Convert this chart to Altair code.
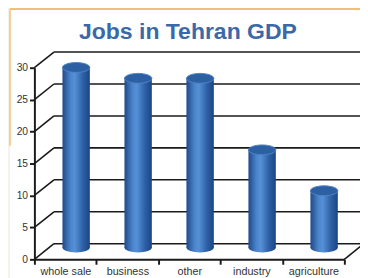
import altair as alt
import pandas as pd

categories = ["whole sale", "business", "other", "industry", "agriculture"]
values = [28.2, 26.5, 26.5, 15.3, 8.9]
y_ticks = [0, 5, 10, 15, 20, 25, 30]
title_text = "Jobs in Tehran GDP"

df = pd.DataFrame({"category": categories, "value": values})
grid_df = pd.DataFrame({"v": y_ticks})
one = pd.DataFrame({"k": [0]})

W, H = 317, 196
DX, DY = 20, -16      # depth offset of back wall
BX, BY = 11, -12      # bar depth offset

xenc = alt.X("category:N", sort=categories, title=None,
             scale=alt.Scale(paddingInner=0, paddingOuter=0),
             axis=alt.Axis(tickBand="extent", labelAngle=0, labelFontSize=11,
                           labelFont="Liberation Sans", labelColor="#333",
                           domainColor="#1a1a1a", domainWidth=2, tickColor="#1a1a1a",
                           tickWidth=2, tickSize=5, labelPadding=1, grid=False, zindex=2))
yscale = alt.Scale(domain=[0, 30], nice=False)
yaxis = alt.Axis(values=y_ticks, grid=False, domainColor="#1a1a1a",
                 domainWidth=2, tickColor="#1a1a1a", tickWidth=2, tickSize=5,
                 labelFontSize=10.5, labelFont="Liberation Sans",
                 labelColor="#333", labelPadding=2, labelOverlap=False, zindex=2)


def yq(field):
    return alt.Y(field, scale=yscale, axis=yaxis, title=None)


frame_bg = alt.Chart(one).mark_rect(fill="white").encode(
    x=alt.value(-25), x2=alt.value(345), y=alt.value(-60), y2=alt.value(230))
frame_top = alt.Chart(one).mark_rule(color="#f0c07a", strokeWidth=2).encode(
    x=alt.value(-25), x2=alt.value(345), y=alt.value(-60))
frame_left = alt.Chart(one).mark_rule(color="#f3cf98", strokeWidth=2).encode(
    x=alt.value(-25), y=alt.value(-60), y2=alt.value(80))

back_grid = alt.Chart(grid_df).mark_rule(color="#1a1a1a", strokeWidth=1.6, yOffset=DY).encode(
    y=yq("v:Q"), x=alt.value(DX), x2=alt.value(345))
diag = alt.Chart(grid_df).mark_rule(color="#1a1a1a", strokeWidth=1.6, y2Offset=DY).encode(
    y=yq("v:Q"), y2="v:Q", x=alt.value(0), x2=alt.value(DX))
floor_right = alt.Chart(one).transform_calculate(v="0").mark_rule(
    color="#1a1a1a", strokeWidth=1.6, y2Offset=DY).encode(
    y=yq("v:Q"), y2="v:Q", x=alt.value(W), x2=alt.value(W + DX))

grad = alt.Gradient(gradient="linear", x1=0, x2=1, y1=0, y2=0, stops=[
    alt.GradientStop(offset=0, color="#1f4a8a"),
    alt.GradientStop(offset=0.3, color="#4c85cc"),
    alt.GradientStop(offset=0.45, color="#5590d6"),
    alt.GradientStop(offset=0.75, color="#2d60a6"),
    alt.GradientStop(offset=1, color="#1c4583"),
])
ellipse = "M -1 0 A 1 0.36 0 1 0 1 0 A 1 0.36 0 1 0 -1 0 Z"

base = alt.Chart(df)
bottoms = base.transform_calculate(zero="0").mark_point(
    shape=ellipse, size=784, filled=True, opacity=1, color=grad,
    xOffset=BX, yOffset=BY).encode(x=xenc, y=yq("zero:Q"))
bars = base.mark_bar(size=28, color=grad, xOffset=BX, x2Offset=BX,
                     yOffset=BY, y2Offset=BY).encode(x=xenc, y=yq("value:Q"))
tops = base.mark_point(shape=ellipse, size=784, filled=True, opacity=1,
                       fill="#2d5fa3", stroke="#4f84c8", strokeWidth=1,
                       xOffset=BX, yOffset=BY).encode(x=xenc, y=yq("value:Q"))

title = alt.Chart(one).mark_text(text=title_text, font="Liberation Sans", fontSize=23.5,
                                 fontWeight="bold", color="#3b68a7", align="center",
                                 baseline="middle").encode(x=alt.value(157), y=alt.value(-36))

chart = alt.layer(frame_bg, frame_top, frame_left, back_grid, diag, floor_right,
                  bottoms, bars, tops, title).properties(
    width=W, height=H,
    autosize=alt.AutoSizeParams(type="none"),
    padding={"left": 27, "top": 58, "right": 16, "bottom": 16},
    background="#f4f2e9",
).configure_view(stroke=None, fill=None)

chart.save("out.html", embed_options={"renderer": "svg", "actions": False})
